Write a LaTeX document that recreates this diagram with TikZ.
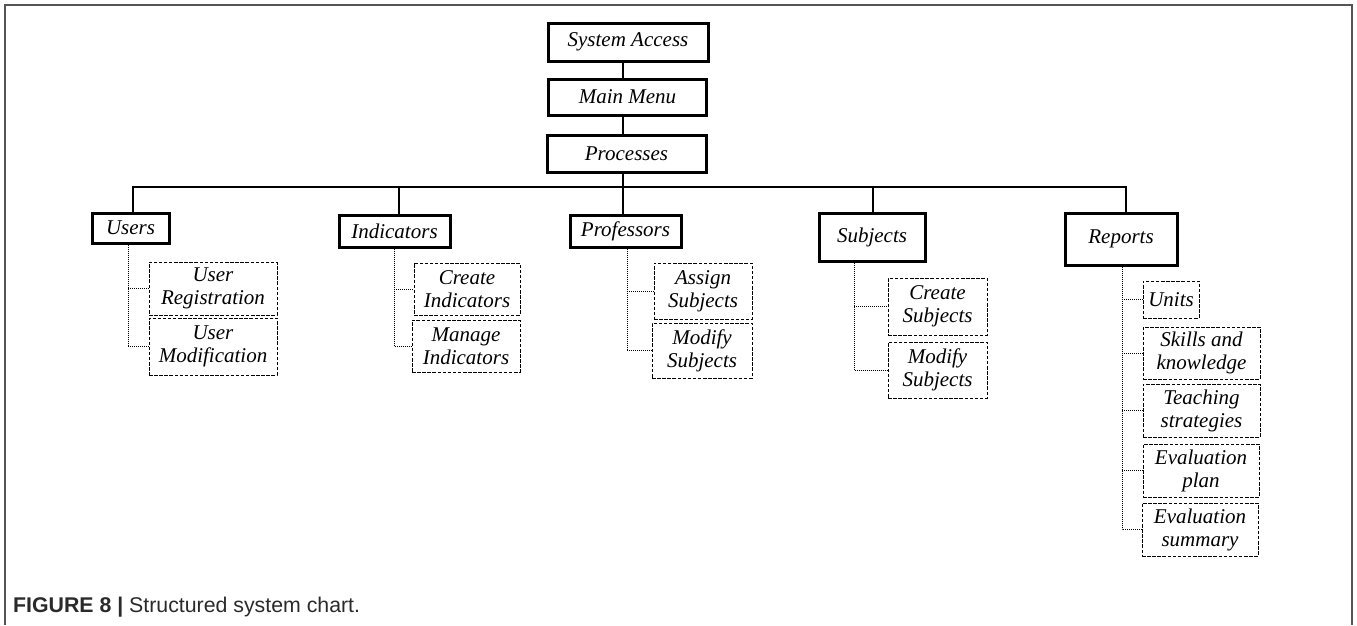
\documentclass[tikz,border=0pt]{standalone}
\usepackage{fontspec}
\setmainfont{Liberation Serif}
\newfontfamily\capfont{Liberation Sans}
\definecolor{framegray}{HTML}{555555}
\definecolor{captext}{HTML}{2A2A2A}
\begin{document}
\begin{tikzpicture}[x=1pt,y=-1pt,
  boxtext/.style={font=\fontsize{21}{23}\selectfont\itshape, align=center, inner sep=0pt},
  mainbox/.style={boxtext, draw, line width=3pt, minimum width=#1},
  subbox/.style={boxtext, draw, line width=0.9pt, dash pattern=on 3.5pt off 1.6pt},
  link/.style={line width=1.8pt},
  dotlink/.style={line width=0.9pt, dash pattern=on 1pt off 1pt}]
\useasboundingbox (0,0) rectangle (1357,625);

% outer frame, open at the bottom
\draw[framegray, line width=2pt] (5,625) -- (5,5) -- (1352,5) -- (1352,625);

% top chain
\node[mainbox=160pt, minimum height=38pt] (sys)  at (628,42)    {System Access};
\node[mainbox=158pt, minimum height=36pt] (menu) at (627.5,97)  {Main Menu};
\node[mainbox=159pt, minimum height=37pt] (proc) at (626.5,153.5) {Processes};

% categories
\node[mainbox=77pt,  minimum height=30pt] (users) at (130.5,228) {Users};
\node[mainbox=111pt, minimum height=32pt] (ind)   at (394.5,231) {Indicators};
\node[mainbox=111pt, minimum height=32pt] (prof)  at (625.5,231) {Professors};
\node[mainbox=106pt, minimum height=48pt] (subj)  at (872,237)   {Subjects};
\node[mainbox=112pt, minimum height=52pt] (rep)   at (1121,239)  {Reports};

% trunk and bar
\coordinate (trunk) at (623,0);
\coordinate (bar) at (623,187);
\draw[link] (sys.south -| trunk) -- (menu.north -| trunk);
\draw[link] (menu.south -| trunk) -- (proc.north -| trunk);
\draw[link] (proc.south -| trunk) -- (bar);
\coordinate (tu) at (133,0);
\coordinate (ti) at (399,0);
\coordinate (tp) at (623,0);
\coordinate (ts) at (873,0);
\coordinate (tr) at (1126,0);
\draw[link] (users.north -| tu) |- (bar) -| (rep.north -| tr);
\draw[link] (bar -| ti) -- (ind.north -| ti);
\draw[link] (bar) -- (prof.north -| tp);
\draw[link] (bar -| ts) -- (subj.north -| ts);

% sub-processes
\node[subbox, minimum width=128pt, minimum height=53pt] (ureg)  at (213,288.5) {User\\Registration};
\node[subbox, minimum width=128pt, minimum height=57pt] (umod)  at (213,346.5) {User\\Modification};
\node[subbox, minimum width=106pt, minimum height=52pt] (cind)  at (467,289)   {Create\\Indicators};
\node[subbox, minimum width=108pt, minimum height=52pt] (mind)  at (466,346)   {Manage\\Indicators};
\node[subbox, minimum width=98pt,  minimum height=56pt] (asub)  at (703,291)   {Assign\\Subjects};
\node[subbox, minimum width=100pt, minimum height=55pt] (msub)  at (702,350.5) {Modify\\Subjects};
\node[subbox, minimum width=99pt,  minimum height=57pt] (csub)  at (937.5,306.5) {Create\\Subjects};
\node[subbox, minimum width=99pt,  minimum height=56pt] (msubb) at (937.5,370)  {Modify\\Subjects};
\node[subbox, minimum width=56pt,  minimum height=37pt] (units) at (1171,299.5) {Units};
\node[subbox, minimum width=117pt, minimum height=52pt] (skill) at (1201.5,353) {Skills and\\knowledge};
\node[subbox, minimum width=117pt, minimum height=53pt] (teach) at (1201.5,410.5) {Teaching\\strategies};
\node[subbox, minimum width=116pt, minimum height=53pt] (eplan) at (1201,470.5) {Evaluation\\plan};
\node[subbox, minimum width=116pt, minimum height=53pt] (esum)  at (1200,529.5) {Evaluation\\summary};

% dotted branches
\coordinate (du) at (128,0);
\coordinate (di) at (394,0);
\coordinate (dp) at (627,0);
\coordinate (ds) at (854,0);
\coordinate (dr) at (1122,0);
\draw[dotlink] (users.south -| du) |- (umod.west);
\draw[dotlink] (ureg.west -| du) -- (ureg.west);
\draw[dotlink] (ind.south -| di) |- (mind.west);
\draw[dotlink] (cind.west -| di) -- (cind.west);
\draw[dotlink] (prof.south -| dp) |- (msub.west);
\draw[dotlink] (asub.west -| dp) -- (asub.west);
\draw[dotlink] (subj.south -| ds) |- (msubb.west);
\draw[dotlink] (csub.west -| ds) -- (csub.west);
\draw[dotlink] (rep.south -| dr) |- (esum.west);
\foreach \n in {units,skill,teach,eplan}
  \draw[dotlink] (\n.west -| dr) -- (\n.west);

% caption
\node[anchor=base west, inner sep=0pt, text=captext, font=\capfont\fontsize{21.3}{24}\selectfont] (cap) at (13,612)
  {\textbf{FIGURE 8 |} Structured system chart.};
\end{tikzpicture}
\end{document}
